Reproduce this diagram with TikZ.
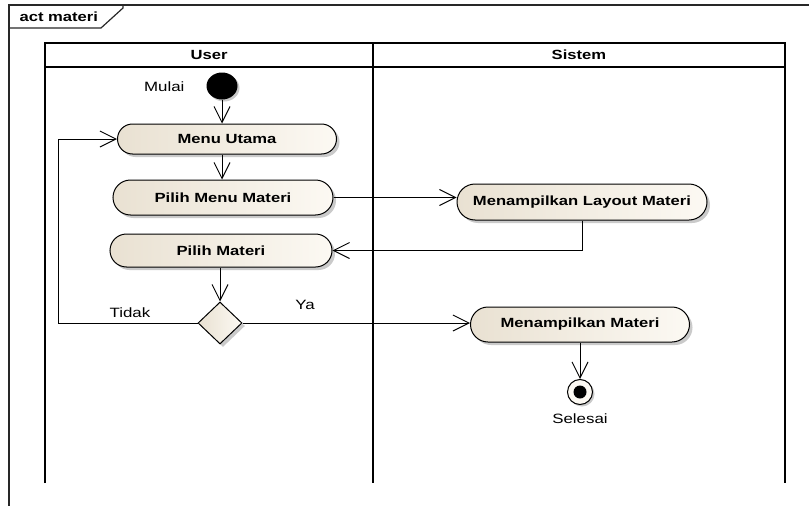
\documentclass[tikz,border=0pt]{standalone}
\usepackage{fontspec}
\setmainfont{Liberation Sans}
\newfontfamily\widefont[FakeStretch=1.25]{Liberation Sans}
\usetikzlibrary{shapes.misc,shapes.geometric,arrows.meta,shadows}
\definecolor{frameline}{RGB}{40,40,40}
\definecolor{actleft}{RGB}{233,225,210}
\definecolor{actright}{RGB}{252,249,243}
\begin{document}
\begin{tikzpicture}[x=1pt,y=-1pt,
  frame/.style={draw=frameline,line width=1.2pt},
  lane/.style={draw=black,line width=1.8pt},
  boldtext/.style={font=\widefont\bfseries\fontsize{13.3}{15}\selectfont},
  action/.style={rounded rectangle,draw=black,line width=1pt,
    left color=actleft,right color=actright,
    drop shadow={shadow xshift=3pt,shadow yshift=-3pt,fill=black!35,opacity=0.6},
    inner sep=0pt,boldtext},
  flow/.style={draw=black,line width=1pt,-{Straight Barb[length=16pt,width=16pt,line width=1pt]}},
  plain/.style={font=\widefont\fontsize{13.5}{15}\selectfont}]
\useasboundingbox (0,0) rectangle (809,506);

% diagram frame and name tab
\draw[frame] (809,5) -- (9,5) -- (9,506);
\draw[frame] (9,28) -- (101,28) -- (123,8) -- (123,5);
\node[anchor=west,boldtext] (title) at (16,16.5) {act materi};

% swimlanes
\draw[lane] (45,483) -- (45,43) -- (785,43) -- (785,483);
\draw[lane] (45,67) -- (785,67);
\draw[lane] (373,43) -- (373,483);
\node[boldtext] (huser) at (209,55) {User};
\node[boldtext] (hsys) at (579,55) {Sistem};

% start node
\node[ellipse,fill=black,minimum width=31pt,minimum height=27pt,inner sep=0pt,
  drop shadow={shadow xshift=2pt,shadow yshift=-2pt,fill=black!35,opacity=0.6}] (start) at (222,86) {};
\node[plain,anchor=east] (lstart) at (188,87) {Mulai};

% actions
\node[action,minimum width=219pt,minimum height=30pt] (menu) at (227,139) {Menu Utama};
\node[action,minimum width=220pt,minimum height=35pt] (pmm) at (223,197.5) {Pilih Menu Materi};
\node[action,minimum width=222pt,minimum height=33pt] (pm) at (221,250.5) {Pilih Materi};
\node[action,minimum width=250pt,minimum height=36pt] (layout) at (582,202) {Menampilkan Layout Materi};
\node[action,minimum width=219pt,minimum height=35pt] (mm) at (580,324.5) {Menampilkan Materi};

% decision
\node[diamond,draw=black,line width=1pt,left color=actleft,right color=actright,
  minimum width=44pt,minimum height=42pt,inner sep=0pt,
  drop shadow={shadow xshift=3pt,shadow yshift=-3pt,fill=black!35,opacity=0.6}] (dec) at (220,323) {};
\node[plain] (ltidak) at (130,313) {Tidak};
\node[plain] (lya) at (305,305) {Ya};

% final node
\node[circle,draw=black,line width=1pt,fill=actright,minimum size=25pt,inner sep=0pt,
  drop shadow={shadow xshift=2pt,shadow yshift=-2pt,fill=black!35,opacity=0.6}] (end) at (580,392) {};
\node[circle,fill=black,minimum size=13pt,inner sep=0pt] (enddot) at (end) {};
\node[plain] (lend) at (580,419) {Selesai};

% flows
\coordinate (loop) at (58,323);
\draw[flow] (start.south) -- (start.south |- menu.north);
\draw[flow] (menu.south -| start) -- (pmm.north -| start);
\draw[flow] (pmm.east) -- (pmm.east -| layout.west);
\draw[flow] (layout.south) |- (pm.east);
\draw[flow] (dec.north |- pm.south) -- (dec.north);
\draw[flow] (dec.west) -- (loop) |- (menu.west);
\draw[flow] (dec.east) -- (dec.east -| mm.west);
\draw[flow] (mm.south) -- (end.north);
\end{tikzpicture}
\end{document}
